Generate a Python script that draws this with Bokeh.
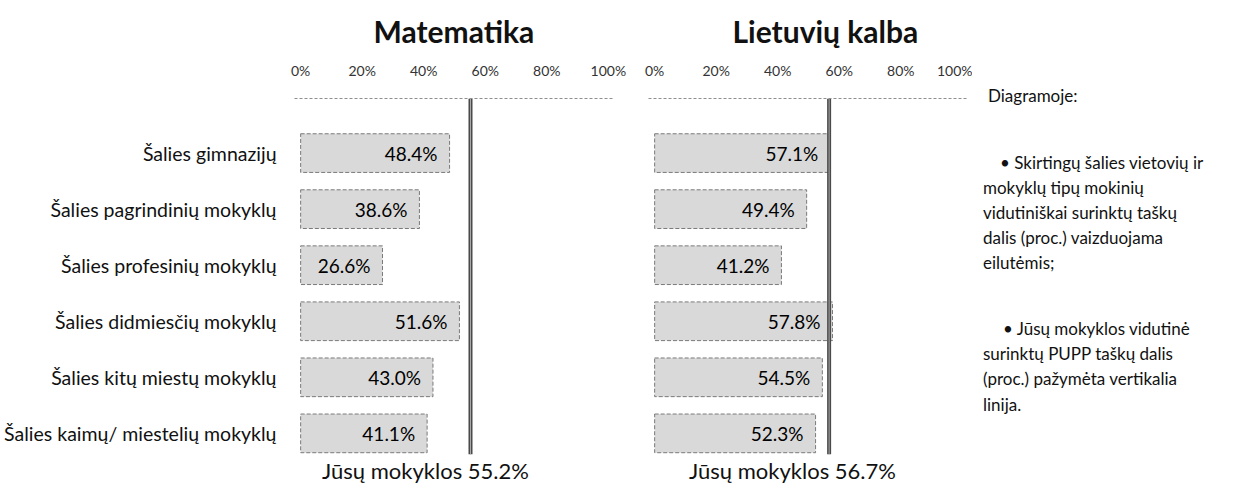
from bokeh.plotting import figure
from bokeh.layouts import row
from bokeh.models import Range1d, FixedTicker, ColumnDataSource, Title, Div, Label
from bokeh.embed import file_html
from bokeh.resources import INLINE
from bokeh.core.properties import value

# ---------------- data ----------------
categories = [
    "Šalies gimnazijų",
    "Šalies pagrindinių mokyklų",
    "Šalies profesinių mokyklų",
    "Šalies didmiesčių mokyklų",
    "Šalies kitų miestų mokyklų",
    "Šalies kaimų/ miestelių mokyklų",
]
math_values = [48.4, 38.6, 26.6, 51.6, 43.0, 41.1]
lit_values = [57.1, 49.4, 41.2, 57.8, 54.5, 52.3]
school_math = 55.2
school_lit = 56.7
tick_values = [0, 20, 40, 60, 80, 100]
tick_labels = ["0%", "20%", "40%", "60%", "80%", "100%"]
titles = ["Matematika", "Lietuvių kalba"]
school_caption = "Jūsų mokyklos"
notes_head = "Diagramoje:"
notes_bullet1 = ["• Skirtingų šalies vietovių ir", "mokyklų tipų mokinių",
                 "vidutiniškai surinktų taškų", "dalis (proc.) vaizduojama", "eilutėmis;"]
notes_bullet2 = ["• Jūsų mokyklos vidutinė", "surinktų PUPP taškų dalis",
                 "(proc.) pažymėta vertikalia", "linija."]

FONT = "Lato"
H = 486            # canvas height
TOP = 88           # frame top (canvas px) = dashed axis line
ROW0 = 144         # first row centre (canvas px)
ROW_PX = 57.5      # px per row
LINE_BOT = 453     # bottom of the school line (canvas px)
CAP_Y = 470        # caption centre (canvas px)
FRAME_W = 320
X0, X1 = -2, 102


def ypx(cy):
    return (cy - ROW0) / ROW_PX


def xpx(px):
    return X0 + px * (X1 - X0) / FRAME_W


Y_TOP, Y_BOT = ypx(TOP), ypx(H)


def panel(title, vals, school, width, bl, br, show_cats, title_off, cap_cx):
    p = figure(width=width, height=H, x_range=Range1d(X0, X1),
               y_range=Range1d(Y_BOT, Y_TOP), output_backend="svg",
               toolbar_location=None, x_axis_location="above",
               min_border_left=bl, min_border_right=br,
               min_border_top=TOP, min_border_bottom=0)
    p.outline_line_color = None
    p.xgrid.visible = False
    p.ygrid.visible = False
    p.background_fill_color = "white"
    p.border_fill_color = "white"

    p.title = Title(text=title, align="left", offset=title_off, standoff=20,
                    text_font=FONT, text_font_size="30px", text_font_style="bold",
                    text_color="#111111")

    ax = p.xaxis[0]
    ax.ticker = FixedTicker(ticks=tick_values)
    ax.major_label_overrides = {t: l for t, l in zip(tick_values, tick_labels)}
    ax.major_tick_line_color = None
    ax.minor_tick_line_color = None
    ax.axis_line_color = "#8f8f8f"
    ax.axis_line_dash = "3 2"
    ax.major_label_standoff = 14
    ax.major_label_text_font = FONT
    ax.major_label_text_font_size = "14px"
    ax.major_label_text_color = "#333333"

    ya = p.yaxis[0]
    if show_cats:
        ya.ticker = FixedTicker(ticks=list(range(len(categories))))
        ya.major_label_overrides = {i: c for i, c in enumerate(categories)}
        ya.axis_line_color = None
        ya.major_tick_line_color = None
        ya.minor_tick_line_color = None
        ya.major_label_standoff = 12
        ya.major_label_text_font = FONT
        ya.major_label_text_font_size = "19.5px"
        ya.major_label_text_color = "#111111"
    else:
        ya.visible = False

    src = ColumnDataSource(dict(y=list(range(len(vals))), v=vals,
                                lab=[f"{v:.1f}%" for v in vals]))
    p.hbar(y="y", left=0, right="v", height=0.69, source=src,
           fill_color="#d9d9d9", line_color="#7a7a7a", line_dash="4 2", line_width=1)
    p.text(x="v", y="y", text="lab", source=src, text_align="right",
           text_baseline="middle", x_offset=-12, text_font=value(FONT),
           text_font_size="19px", text_color="#000000")

    # school average: vertical line from the axis line down below the last bar
    ssrc = ColumnDataSource(dict(x=[school], y0=[Y_TOP], y1=[ypx(LINE_BOT)]))
    p.segment(x0="x", y0="y0", x1="x", y1="y1", source=ssrc,
              line_color="#4a4a4a", line_width=4)
    p.segment(x0="x", y0="y0", x1="x", y1="y1", source=ssrc,
              line_color="#a8a8a8", line_width=1)

    p.add_layout(Label(x=xpx(cap_cx), y=ypx(CAP_Y), text=f"{school_caption} {school:.1f}%",
                       text_align="center", text_baseline="middle", text_font=FONT,
                       text_font_size="22px", text_color="#111111"))
    return p


# left figure page x 8..638 (frame 302..622), right 638..980 (frame 656..976), notes 980..1246
p1 = panel(titles[0], math_values, school_math, 630, 294, 16, True, 79, 433 - 302)
p2 = panel(titles[1], lit_values, school_lit, 342, 18, 4, False, 84, 800 - 656)

lines = [notes_head] + notes_bullet1 + notes_bullet2
xs = [11, 23, 6, 6, 6, 6, 26, 6, 6, 6]
ys = [91, 158, 183, 208, 233, 258, 324, 349, 374, 400]
parts = []
for x, y, t in zip(xs, ys, lines):
    parts.append(f'<div style="position:absolute;left:{x}px;top:{y - 12}px;'
                 f'white-space:nowrap;line-height:24px;">{t}</div>')
html = ('<div style="position:relative;width:266px;height:486px;font-family:Lato;'
        'font-size:17px;color:#111111;">' + "".join(parts) + '</div>')
notes = Div(text=html, width=266, height=486)

layout = row(p1, p2, notes)
open("out.html", "w").write(file_html(layout, INLINE))
